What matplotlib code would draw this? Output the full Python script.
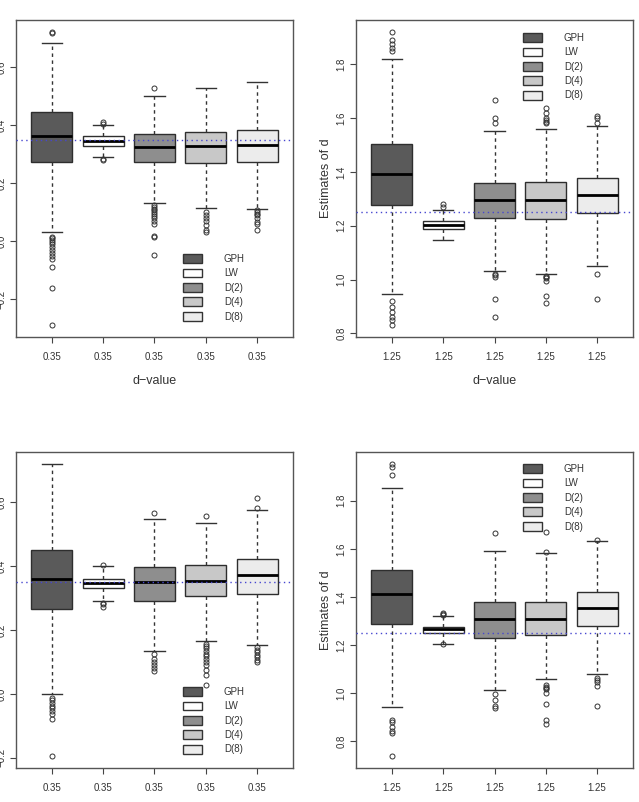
import matplotlib
matplotlib.use("Agg")
import matplotlib.pyplot as plt
from matplotlib.patches import Patch

plt.rcParams['font.family'] = ['Liberation Sans', 'DejaVu Sans']

methods = ['GPH', 'LW', 'D(2)', 'D(4)', 'D(8)']
fills = ['#5a5a5a', '#ffffff', '#8e8e8e', '#c8c8c8', '#ececec']

# box stats per panel: (whislo, q1, med, q3, whishi)
tl_stats = [(0.030, 0.274, 0.361, 0.444, 0.683),
            (0.289, 0.329, 0.347, 0.361, 0.399),
            (0.131, 0.272, 0.325, 0.370, 0.502),
            (0.114, 0.270, 0.327, 0.376, 0.529),
            (0.112, 0.274, 0.333, 0.384, 0.548)]
tl_fliers = [[0.722, 0.716, 0.016, 0.010, 0.004, -0.002, -0.010, -0.020, -0.030, -0.040, -0.050, -0.062, -0.088, -0.160, -0.290],
             [0.410, 0.404, 0.284, 0.279],
             [0.527, 0.124, 0.118, 0.112, 0.106, 0.100, 0.094, 0.088, 0.080, 0.070, 0.060, 0.017, 0.016, -0.048],
             [0.100, 0.090, 0.080, 0.068, 0.055, 0.040, 0.032],
             [0.106, 0.100, 0.095, 0.090, 0.080, 0.065, 0.060, 0.038]]

tr_stats = [(0.945, 1.277, 1.393, 1.502, 1.820),
            (1.148, 1.186, 1.201, 1.216, 1.257),
            (1.031, 1.227, 1.297, 1.360, 1.552),
            (1.021, 1.226, 1.296, 1.364, 1.561),
            (1.052, 1.247, 1.315, 1.378, 1.571)]
tr_fliers = [[1.921, 1.890, 1.875, 1.860, 1.848, 0.922, 0.898, 0.878, 0.860, 0.850, 0.830],
             [1.280, 1.268],
             [1.667, 1.602, 1.583, 1.020, 1.015, 1.010, 0.928, 0.862],
             [1.636, 1.618, 1.600, 1.592, 1.585, 1.580, 1.012, 1.008, 1.004, 0.995, 0.940, 0.913],
             [1.607, 1.600, 1.582, 1.021, 0.928]]

bl_stats = [(0.000, 0.266, 0.360, 0.450, 0.719),
            (0.289, 0.331, 0.346, 0.358, 0.401),
            (0.133, 0.291, 0.349, 0.396, 0.546),
            (0.166, 0.306, 0.353, 0.402, 0.533),
            (0.154, 0.313, 0.370, 0.420, 0.574)]
bl_fliers = [[-0.013, -0.020, -0.030, -0.038, -0.045, -0.055, -0.062, -0.079, -0.195],
             [0.403, 0.285, 0.280, 0.272],
             [0.565, 0.124, 0.110, 0.100, 0.090, 0.080, 0.072],
             [0.555, 0.157, 0.150, 0.142, 0.134, 0.126, 0.118, 0.110, 0.100, 0.090, 0.075, 0.060, 0.028],
             [0.611, 0.582, 0.147, 0.138, 0.130, 0.122, 0.114, 0.106, 0.100]]

br_stats = [(0.942, 1.286, 1.411, 1.513, 1.855),
            (1.206, 1.251, 1.265, 1.276, 1.320),
            (1.014, 1.230, 1.310, 1.381, 1.592),
            (1.061, 1.241, 1.310, 1.378, 1.583),
            (1.080, 1.281, 1.354, 1.422, 1.632)]
br_fliers = [[1.954, 1.940, 1.908, 0.890, 0.880, 0.860, 0.845, 0.835, 0.738],
             [1.334, 1.328, 1.324, 1.203],
             [1.666, 0.997, 0.970, 0.945, 0.937],
             [1.670, 1.589, 1.034, 1.028, 1.022, 1.016, 1.000, 0.954, 0.887, 0.873],
             [1.637, 1.065, 1.055, 1.045, 1.030, 0.949]]

true_d = [0.35, 1.25, 0.35, 1.25]
tick_lab = ['0.35', '1.25', '0.35', '1.25']
yticks = [[-0.2, 0.0, 0.2, 0.4, 0.6], [0.8, 1.0, 1.2, 1.4, 1.6, 1.8],
          [-0.2, 0.0, 0.2, 0.4, 0.6], [0.8, 1.0, 1.2, 1.4, 1.6, 1.8]]

W, H = 639, 802
fig = plt.figure(figsize=(W / 100, H / 100), dpi=100)

# pixel boxes: left, top, right, bottom
boxes = [(16, 20, 293, 337), (356, 20, 633, 337),
         (16, 452, 293, 768), (356, 452, 633, 768)]
leg_top = [254, 33, 687, 464]

panels = [(tl_stats, tl_fliers), (tr_stats, tr_fliers),
          (bl_stats, bl_fliers), (br_stats, br_fliers)]

for i, (stats, fliers) in enumerate(panels):
    l, t, r, b = boxes[i]
    ax = fig.add_axes([l / W, 1 - b / H, (r - l) / W, (b - t) / H])
    bs = []
    for (lo, q1, med, q3, hi), fl in zip(stats, fliers):
        bs.append(dict(whislo=lo, q1=q1, med=med, q3=q3, whishi=hi, fliers=fl))
    art = ax.bxp(bs, positions=[1, 2, 3, 4, 5], widths=0.8, patch_artist=True,
                 capwidths=0.4,
                 boxprops=dict(edgecolor='#2e2e2e', linewidth=1.0),
                 medianprops=dict(color='black', linewidth=2.0),
                 whiskerprops=dict(color='#333333', linestyle=(0, (2.5, 2.5)), linewidth=1.0),
                 capprops=dict(color='#333333', linewidth=1.0),
                 flierprops=dict(marker='o', markersize=3.6, markerfacecolor='none',
                                 markeredgecolor='#333333', markeredgewidth=0.7))
    for p, c in zip(art['boxes'], fills):
        p.set_facecolor(c)

    ax.axhline(true_d[i], color='#4646d0', linestyle=(0, (1, 2.5)), linewidth=1.0, zorder=5)

    vals = [v for s in stats for v in s] + [v for f in fliers for v in f]
    lo, hi = min(vals), max(vals)
    pad = 0.04 * (hi - lo)
    ax.set_ylim(lo - pad, hi + pad)
    ax.set_xlim(0.3, 5.7)

    ax.set_xticks([1, 2, 3, 4, 5])
    ax.set_xticklabels([tick_lab[i]] * 5)
    ax.set_yticks(yticks[i])
    ax.set_yticklabels([('%.1f' % v).replace('-', '\u2212') for v in yticks[i]],
                       rotation=90, va='center')
    ax.tick_params(labelsize=7, length=4.5, width=0.8, color='#444444',
                   labelcolor='#333333')
    ax.tick_params(axis='x', pad=6)
    ax.tick_params(axis='y', pad=2.5)
    for s in ax.spines.values():
        s.set_color('#555555')
        s.set_linewidth(1.0)

    if i < 2:
        ax.set_xlabel('d\u2212value', fontsize=9, color='#333333', labelpad=10)
    if i % 2 == 1:
        ax.set_ylabel('Estimates of d', fontsize=9, color='#333333', labelpad=3)

    handles = [Patch(facecolor=c, edgecolor='#333333', linewidth=1.0) for c in fills]
    ax.legend(handles, methods, loc='upper left', frameon=False, fontsize=7,
              bbox_to_anchor=(0.603, (b - leg_top[i]) / (b - t)),
              borderpad=0, borderaxespad=0, handlelength=2.0, handleheight=1.0,
              labelspacing=0.45, handletextpad=2.2, labelcolor='#333333')

fig.savefig('out.png', dpi=100)
